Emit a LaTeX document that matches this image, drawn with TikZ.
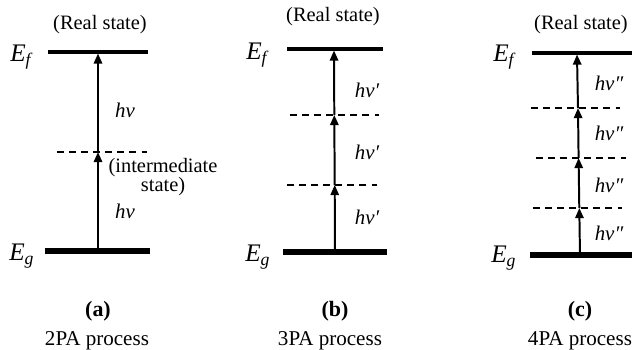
\documentclass[tikz,border=0pt]{standalone}
\usepackage{fontspec}
\setmainfont{Liberation Serif}
\usetikzlibrary{arrows.meta}

\newcommand{\energy}[1]{\textit{E}\textsubscript{\textit{#1}}}

\begin{document}
\begin{tikzpicture}[
    x=0.016cm, y=-0.016cm,
    upper/.style={line width=1.8pt},
    lower/.style={line width=2.4pt},
    virtual/.style={line width=0.7pt, dash pattern=on 3.2pt off 2.3pt},
    photon/.style={line width=0.9pt, -{Triangle[length=4.6pt,width=3.8pt]}},
    statelabel/.style={font=\fontsize{9.3}{9}\selectfont, align=center, inner sep=0pt},
    energylabel/.style={font=\fontsize{11.5}{13}\selectfont, inner sep=0pt},
    hvlabel/.style={font=\fontsize{9.5}{11}\selectfont\itshape, inner sep=0pt},
    panellabel/.style={font=\fontsize{10}{12}\selectfont\bfseries, inner sep=0pt},
    caption/.style={font=\fontsize{9.6}{12}\selectfont, inner sep=0pt}
]
    \useasboundingbox (0,0) rectangle (632,350);

    % --- (a): 2PA process ---
    \draw[upper] (48,52) -- (148,52);
    \draw[lower] (45,251) -- (150,251);
    \draw[virtual] (57,152) -- (147,152);
    \coordinate (a0) at (98,251);
    \coordinate (a1) at (98,152);
    \coordinate (a2) at (98,53.5);
    \draw[photon] (a0) -- (a1);
    \draw[photon] (a1) -- (a2);
    \node[statelabel] (a-real) at (100,25) {(Real state)};
    \node[energylabel] (a-ef) at (22,57) {\energy{f}};
    \node[energylabel] (a-eg) at (22,256) {\energy{g}};
    \node[hvlabel] (a-hv1) at (125,110) {hν};
    \node[hvlabel] (a-hv2) at (125,211) {hν};
    \node[statelabel] (a-mid) at (163,177) {(intermediate\\state)};
    \node[panellabel] (a-tag) at (98,311) {(a)};
    \node[caption] (a-cap) at (97,341) {2PA process};

    % --- (b): 3PA process ---
    \draw[upper] (287,49) -- (383,49);
    \draw[lower] (283,252) -- (387,252);
    \draw[virtual] (290,115) -- (379,115);
    \draw[virtual] (287,185) -- (377,185);
    \coordinate (b0) at (335,252);
    \coordinate (b1) at (334.7,185);
    \coordinate (b2) at (334.3,115);
    \coordinate (b3) at (334,50.5);
    \foreach \i/\j in {0/1, 1/2, 2/3}
        \draw[photon] (b\i) -- (b\j);
    \foreach \y in {90, 152, 217}
        \node[hvlabel] (b-hv-\y) at (367,\y) {hν′};
    \node[statelabel] (b-real) at (333,17) {(Real state)};
    \node[energylabel] (b-ef) at (258,55) {\energy{f}};
    \node[energylabel] (b-eg) at (258,257) {\energy{g}};
    \node[panellabel] (b-tag) at (335,311) {(b)};
    \node[caption] (b-cap) at (330,341) {3PA process};

    % --- (c): 4PA process ---
    \draw[upper] (532,53) -- (632,53);
    \draw[lower] (530,255) -- (632,255);
    \foreach \y/\xl/\xr in {108/531/620, 158/536/626, 208/533/622}
        \draw[virtual] (\xl,\y) -- (\xr,\y);
    \coordinate (c0) at (580,255);
    \coordinate (c1) at (579.3,208);
    \coordinate (c2) at (578.6,158);
    \coordinate (c3) at (578,108);
    \coordinate (c4) at (577,54.5);
    \foreach \i/\j in {0/1, 1/2, 2/3, 3/4}
        \draw[photon] (c\i) -- (c\j);
    \foreach \y in {83, 133, 185, 233}
        \node[hvlabel] (c-hv-\y) at (609,\y) {hν″};
    \node[statelabel] (c-real) at (581,25) {(Real state)};
    \node[energylabel] (c-ef) at (505,57) {\energy{f}};
    \node[energylabel] (c-eg) at (504,258) {\energy{g}};
    \node[panellabel] (c-tag) at (580,311) {(c)};
    \node[caption] (c-cap) at (580,341) {4PA process};

\end{tikzpicture}
\end{document}
